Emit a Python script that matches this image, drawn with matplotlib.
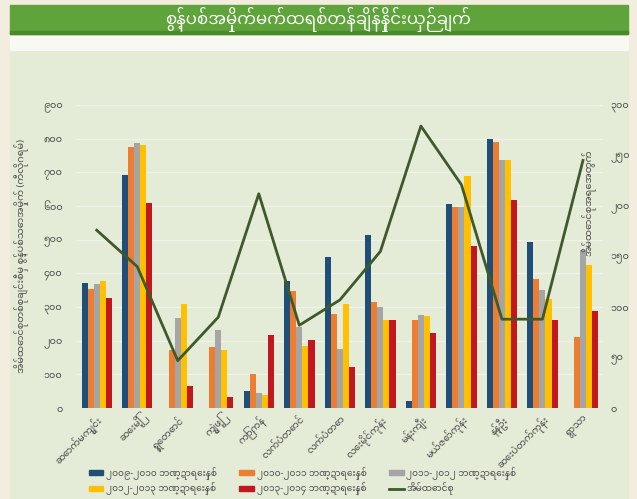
import numpy as np
import matplotlib
matplotlib.use("Agg")
import matplotlib.pyplot as plt
from matplotlib.patches import Rectangle
from matplotlib.lines import Line2D

plt.rcParams['font.family'] = ['Noto Sans Myanmar', 'Padauk', 'Myanmar Khyay', 'DejaVu Sans']

title = "စွန့်ပစ်အမှိုက်မက်ထရစ်တန်ချိန်နှိုင်းယှဉ်ချက်"
places = ["ဆောက်မကျွင်း", "ဆေးမြို့", "ရွှေတောင်", "ကျွဲဖြူ", "ကြာကန်",
          "လက်ပံတောင်", "လက်ပံတော", "လေးမိုင်ကုန်း", "မန်းကျီး",
          "မယ်ဇော်ကုန်း", "နန့်ဦး", "ဆေးပဲတက်ကုန်း", "ရွာသာ"]

# waste per household (kg), one list per fiscal year
fy0910 = [372, 692, 0, 0, 51, 378, 447, 514, 22, 606, 799, 494, 0]
fy1011 = [355, 776, 172, 182, 101, 347, 279, 316, 263, 598, 791, 382, 212]
fy1112 = [368, 786, 268, 232, 44, 240, 177, 299, 275, 598, 737, 350, 469]
fy1213 = [378, 781, 308, 174, 39, 184, 308, 263, 273, 689, 735, 323, 425]
fy1314 = [326, 608, 65, 32, 217, 202, 123, 263, 222, 481, 618, 263, 289]
# number of households (right axis)
households = [176, 140, 47, 90, 212, 82, 107, 155, 279, 221, 88, 88, 245]

years = ["၂၀၀၉-၂၀၁၀ ဘဏ္ဍာရေးနှစ်", "၂၀၁၀-၂၀၁၁ ဘဏ္ဍာရေးနှစ်", "၂၀၁၁-၂၀၁၂ ဘဏ္ဍာရေးနှစ်",
         "၂၀၁၂-၂၀၁၃ ဘဏ္ဍာရေးနှစ်", "၂၀၁၃-၂၀၁၄ ဘဏ္ဍာရေးနှစ်"]
line_label = "အိမ်ထောင်စု"
left_ticks = ["၀", "၁၀၀", "၂၀၀", "၃၀၀", "၄၀၀", "၅၀၀", "၆၀၀", "၇၀၀", "၈၀၀", "၉၀၀"]
right_ticks = ["၀", "၅၀", "၁၀၀", "၁၅၀", "၂၀၀", "၂၅၀", "၃၀၀"]
left_label = "အိမ်ထောင်စုတစ်စုချင်းစီမှ စွန့်ပစ်သောအမှိုက် (ကီလိုဂရမ်)"
right_label = "အိမ်ထောင်စုအရေအတွက်"

colors = ["#1f4e79", "#ed7d31", "#a5a5a5", "#ffc000", "#c0181e"]
line_color = "#3e5a2a"
txt = "#505050"

fig = plt.figure(figsize=(6.37, 4.99), dpi=100, facecolor="#f3ede0")
# background panel, white band and green title banner
fig.patches.append(Rectangle((0.0157, 0), 0.970, 0.932, transform=fig.transFigure,
                             color="#e4ebd7", zorder=-3))
fig.patches.append(Rectangle((0.0157, 0.90), 0.970, 0.032, transform=fig.transFigure,
                             color="#f7f9f2", zorder=-2))
fig.patches.append(Rectangle((0.0157, 0.932), 0.970, 0.058, transform=fig.transFigure,
                             color="#5ea43a", zorder=-2))
fig.patches.append(Rectangle((0.0157, 0.932), 0.970, 0.006, transform=fig.transFigure,
                             color="#4a8a2c", zorder=-1))
fig.text(0.5, 1 - 20 / 499, title, color="white", fontsize=12, fontweight="bold",
         ha="center", va="center")

ax = fig.add_axes([0.120, 0.182, 0.827, 0.608])
ax.set_facecolor("none")
x = np.arange(len(places))
w = 0.15
series = [fy0910, fy1011, fy1112, fy1213, fy1314]
for i, vals in enumerate(series):
    ax.bar(x + (i - 2) * w, vals, w, color=colors[i], label=years[i])

ax.set_xlim(-0.5, len(places) - 0.5)
ax.set_ylim(0, 900)
ax.set_yticks(np.arange(0, 901, 100))
ax.set_yticklabels(left_ticks)
ax.set_xticks(x)
ax.set_xticklabels(places, rotation=45, ha="right", rotation_mode="anchor")
ax.tick_params(axis="y", length=0, pad=10, labelsize=7, labelcolor=txt)
ax.tick_params(axis="x", length=0, pad=4, labelsize=7, labelcolor=txt)
ax.yaxis.grid(True, color="#eef3e8", linewidth=1)
ax.set_axisbelow(True)
for s in ax.spines.values():
    s.set_visible(False)
ax.set_ylabel(left_label, fontsize=7, color=txt)
ax.yaxis.set_label_coords(-0.09, 0.5)

ax2 = ax.twinx()
ax2.plot(x, households, color=line_color, linewidth=2)
ax2.set_ylim(0, 300)
ax2.set_yticks(np.arange(0, 301, 50))
ax2.set_yticklabels(right_ticks)
ax2.tick_params(axis="y", length=0, pad=5, labelsize=7, labelcolor=txt)
for s in ax2.spines.values():
    s.set_visible(False)
ax2.text(0.973, 0.677, right_label, transform=ax2.transAxes, rotation=90,
         fontsize=7, color=txt, ha="center", va="center")

handles = [Rectangle((0, 0), 1, 1, color=c) for c in colors]
handles.append(Line2D([], [], color=line_color, linewidth=2))
labels = years + [line_label]
order = [0, 3, 1, 4, 2, 5]
fig.legend([handles[i] for i in order], [labels[i] for i in order], ncol=3,
           loc="center", bbox_to_anchor=(0.475, 1 - 481 / 499), frameon=False,
           fontsize=6.5, handlelength=1.6, handleheight=0.45, handletextpad=0.3,
           columnspacing=2.5, labelspacing=0.3, labelcolor=txt)

fig.savefig("out.png", dpi=100, facecolor=fig.get_facecolor())
